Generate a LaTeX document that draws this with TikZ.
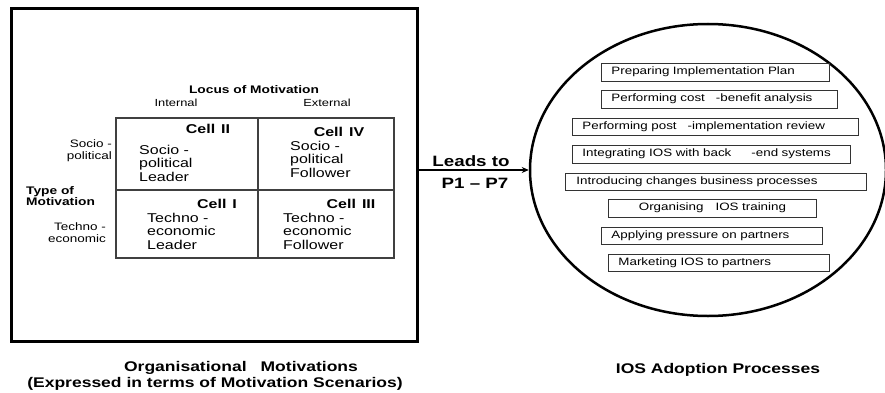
\documentclass[tikz,border=0pt]{standalone}
\usepackage{fontspec}
\setmainfont[FakeStretch=1.25]{Liberation Sans}
\usetikzlibrary{arrows.meta,shapes.geometric}
\begin{document}
\begin{tikzpicture}[x=1pt,y=-1pt,
  procbox/.style={draw=black!80, line width=0.9pt, font=\fontsize{10.7}{12}\selectfont,
    anchor=west, minimum height=18pt, inner xsep=10pt, inner ysep=0pt, align=left},
  celltxt/.style={font=\fontsize{12.8}{13.5}\selectfont, anchor=west, inner sep=0pt, align=left},
  cellhead/.style={font=\fontsize{12.8}{13.5}\selectfont\bfseries, inner sep=0pt},
  sidetxt/.style={font=\fontsize{10.8}{12}\selectfont, inner sep=0pt},
  axhead/.style={font=\fontsize{11}{11}\selectfont\bfseries, inner sep=0pt},
  caption/.style={font=\fontsize{14}{16}\selectfont\bfseries, inner sep=0pt},
  leadtxt/.style={font=\fontsize{15}{16}\selectfont\bfseries, inner sep=0pt},
  gridline/.style={draw=black!75, line width=1.2pt}]
\useasboundingbox (0,0) rectangle (885,393);

% left frame
\node[draw, line width=3pt, minimum width=406pt, minimum height=332pt, inner sep=0pt] (lb) at (214,175) {};

% grid
\coordinate (g1) at (116,118);
\coordinate (g2) at (394,258);
\draw[gridline] (g1) rectangle (g2);
\coordinate (gt) at (258,118);
\coordinate (gb) at (258,258);
\coordinate (gl) at (116,190);
\coordinate (gr) at (394,190);
\draw[gridline] (gt) -- (gb);
\draw[gridline] (gl) -- (gr);

% axis labels
\node[axhead] (locus) at (254,90) {Locus of Motivation};
\node[sidetxt, font=\fontsize{10.3}{12}\selectfont] (int) at (176,103) {Internal};
\node[sidetxt, font=\fontsize{10.3}{12}\selectfont] (ext) at (327,103) {External};
\node[sidetxt, anchor=east, align=right] (sp) at (112,151) {Socio -\\political};
\node[axhead, anchor=west, align=left] (type) at (26,196) {Type of\\Motivation};
\node[sidetxt, anchor=east, align=right] (te) at (106,233) {Techno -\\economic};

% cells
\node[cellhead] (c2h) at (208,129) {Cell\hspace{6pt}II};
\node[celltxt] (c2) at (139,163) {Socio -\\political\\Leader};
\node[cellhead] (c4h) at (339,132) {Cell\hspace{6pt}IV};
\node[celltxt] (c4) at (290,159) {Socio -\\political\\Follower};
\node[cellhead] (c1h) at (217,204) {Cell\hspace{6pt}I};
\node[celltxt] (c1) at (147,231) {Techno -\\economic\\Leader};
\node[cellhead] (c3h) at (351,204) {Cell\hspace{6pt}III};
\node[celltxt] (c3) at (283,231) {Techno -\\economic\\Follower};

% ellipse
\node[draw, ellipse, line width=2.5pt, minimum width=356pt, minimum height=292pt, inner sep=0pt] (adopt) at (708,170) {};

% arrow
\draw[line width=2pt, -{Stealth[length=7pt,width=6pt]}] (lb.east |- adopt.west) -- (adopt.west);
\node[leadtxt] (leads) at (471,161) {Leads to};
\node[leadtxt] (p17) at (475,183) {P1 – P7};

% process boxes
\node[procbox, text width=208pt] (b1) at (601,72) {Preparing Implementation Plan};
\node[procbox, text width=216pt] (b2) at (601,99) {Performing cost\hspace{11pt}-benefit analysis};
\node[procbox, text width=266pt, minimum height=17pt] (b3) at (572,126.5) {Performing post\hspace{11pt}-implementation review};
\node[procbox, text width=258pt] (b4) at (572,154) {Integrating IOS with back\hspace{20pt}-end systems};
\node[procbox, text width=279pt, inner xsep=11pt, minimum height=17pt] (b5) at (565,181.5) {Introducing changes business processes};
\node[procbox, text width=188pt, align=center] (b6) at (608,208) {Organising\hspace{12pt}IOS training};
\node[procbox, text width=201pt, minimum height=17pt] (b7) at (601,235.5) {Applying pressure on partners};
\node[procbox, text width=201pt, minimum height=17pt] (b8) at (608,262.5) {Marketing IOS to partners};

% captions
\node[caption] (cap1) at (241,368) {Organisational\hspace{14pt}Motivations};
\node[caption] (cap2) at (215,384) {(Expressed in terms of Motivation Scenarios)};
\node[caption] (cap3) at (718,370) {IOS Adoption Processes};
\end{tikzpicture}
\end{document}
